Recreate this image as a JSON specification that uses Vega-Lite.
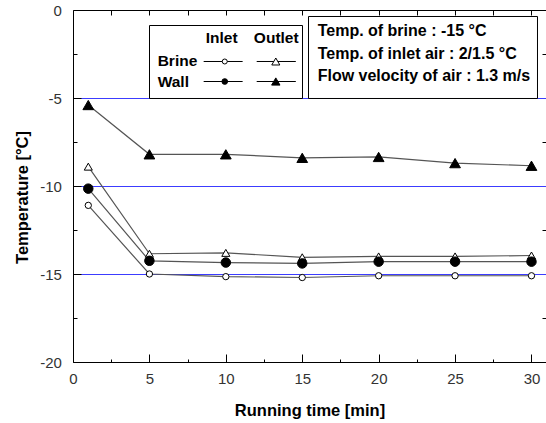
{
  "$schema": "https://vega.github.io/schema/vega-lite/v6.json",
  "width": 473,
  "height": 352,
  "autosize": {"type": "none"},
  "padding": {"left": 73, "top": 10, "right": 0, "bottom": 61},
  "background": "white",
  "config": {
    "view": {"stroke": null},
    "font": "Liberation Sans",
    "axis": {
      "labelFont": "Liberation Sans",
      "titleFont": "Liberation Sans",
      "domainColor": "#000",
      "tickColor": "#000",
      "labelColor": "#333",
      "labelFontSize": 15,
      "titleFontSize": 16.5,
      "titleFontWeight": "bold",
      "titleColor": "#000",
      "domainWidth": 1,
      "tickWidth": 1,
      "labelOverlap": false,
      "labelFlush": false
    }
  },
  "datasets": {
    "temps": [
      {"t": 1, "temp": -11.1, "series": "Brine inlet"},
      {"t": 5, "temp": -15.0, "series": "Brine inlet"},
      {"t": 10, "temp": -15.15, "series": "Brine inlet"},
      {"t": 15, "temp": -15.2, "series": "Brine inlet"},
      {"t": 20, "temp": -15.1, "series": "Brine inlet"},
      {"t": 25, "temp": -15.1, "series": "Brine inlet"},
      {"t": 30, "temp": -15.1, "series": "Brine inlet"},
      {"t": 1, "temp": -8.9, "series": "Brine outlet"},
      {"t": 5, "temp": -13.85, "series": "Brine outlet"},
      {"t": 10, "temp": -13.8, "series": "Brine outlet"},
      {"t": 15, "temp": -14.05, "series": "Brine outlet"},
      {"t": 20, "temp": -14.0, "series": "Brine outlet"},
      {"t": 25, "temp": -14.0, "series": "Brine outlet"},
      {"t": 30, "temp": -13.95, "series": "Brine outlet"},
      {"t": 1, "temp": -10.15, "series": "Wall inlet"},
      {"t": 5, "temp": -14.25, "series": "Wall inlet"},
      {"t": 10, "temp": -14.35, "series": "Wall inlet"},
      {"t": 15, "temp": -14.4, "series": "Wall inlet"},
      {"t": 20, "temp": -14.3, "series": "Wall inlet"},
      {"t": 25, "temp": -14.3, "series": "Wall inlet"},
      {"t": 30, "temp": -14.3, "series": "Wall inlet"},
      {"t": 1, "temp": -5.4, "series": "Wall outlet"},
      {"t": 5, "temp": -8.2, "series": "Wall outlet"},
      {"t": 10, "temp": -8.2, "series": "Wall outlet"},
      {"t": 15, "temp": -8.4, "series": "Wall outlet"},
      {"t": 20, "temp": -8.35, "series": "Wall outlet"},
      {"t": 25, "temp": -8.7, "series": "Wall outlet"},
      {"t": 30, "temp": -8.85, "series": "Wall outlet"}
    ]
  },
  "data": {"name": "temps"},
  "resolve": {"axis": {"x": "independent", "y": "independent"}},
  "layer": [
    {
      "mark": {"type": "line", "stroke": "#555", "strokeWidth": 1.2},
      "encoding": {
        "x": {
          "field": "t", "type": "quantitative",
          "scale": {"domain": [0, 30.95], "nice": false, "zero": false},
          "axis": {
            "orient": "bottom",
            "values": [0, 2.5, 5, 7.5, 10, 12.5, 15, 17.5, 20, 22.5, 25, 27.5, 30],
            "labelExpr": "datum.value % 5 === 0 ? '' + datum.value : ''",
            "tickSize": {"condition": {"test": "datum.value % 5 === 0", "value": -8}, "value": -3},
            "labelPadding": 17,
            "grid": false,
            "title": "Running time [min]",
            "titlePadding": 11
          }
        },
        "y": {
          "field": "temp", "type": "quantitative",
          "scale": {"domain": [-20, 0], "nice": false, "zero": false},
          "axis": {
            "orient": "left",
            "values": [0, -2.5, -5, -7.5, -10, -12.5, -15, -17.5, -20],
            "labelExpr": "datum.value % 5 === 0 ? (datum.value === -5 ? '-5\u2007' : '' + datum.value) : ''",
            "tickSize": {"condition": {"test": "datum.value % 5 === 0", "value": -8}, "value": -4},
            "labelPadding": 19.6,
            "grid": false,
            "title": "Temperature [°C]",
            "titlePadding": 9,
            "titleY": 187
          }
        },
        "detail": {"field": "series"}
      }
    },
    {
      "mark": {"type": "point", "filled": true, "stroke": "#000", "strokeWidth": 1, "opacity": 1},
      "encoding": {
        "x": {
          "field": "t", "type": "quantitative",
          "axis": {
            "orient": "top",
            "values": [2.5, 5, 7.5, 10, 12.5, 15, 17.5, 20, 22.5, 25, 27.5, 30],
            "labels": false, "tickSize": -5, "domain": true, "grid": false, "title": null
          }
        },
        "y": {
          "field": "temp", "type": "quantitative",
          "axis": {
            "orient": "right",
            "values": [-5, -10, -15],
            "labels": false, "ticks": false, "domain": false, "grid": true,
            "gridColor": "#3c3cff", "gridWidth": 1, "gridOpacity": 1, "title": null,
            "zindex": 0
          }
        },
        "shape": {"field": "series", "type": "nominal", "scale": {"domain": ["Brine inlet", "Brine outlet", "Wall inlet", "Wall outlet"], "range": ["circle", "triangle-up", "circle", "triangle-up"]}, "legend": null},
        "fill": {"field": "series", "type": "nominal", "scale": {"domain": ["Brine inlet", "Brine outlet", "Wall inlet", "Wall outlet"], "range": ["#ffffff", "#ffffff", "#000000", "#000000"]}, "legend": null},
        "size": {"field": "series", "type": "ordinal", "scale": {"domain": ["Brine inlet", "Brine outlet", "Wall inlet", "Wall outlet"], "range": [40, 115, 55, 120]}, "legend": null}
      }
    },
    {
      "data": {"values": [{}]},
      "mark": {"type": "rect", "fill": "white", "stroke": "black", "strokeWidth": 1},
      "encoding": {
        "x": {"datum": 5.006, "type": "quantitative", "axis": null},
        "x2": {"datum": 15.017},
        "y": {"datum": -0.8807, "type": "quantitative",
              "axis": {"orient": "right", "values": [-2.5, -7.5, -12.5, -17.5], "labels": false, "tickSize": -4, "domain": false, "grid": false, "title": null}},
        "y2": {"datum": -5.028}
      }
    },
    {
      "data": {"values": [{}]},
      "mark": {"type": "rect", "fill": "white", "stroke": "black", "strokeWidth": 1},
      "encoding": {
        "x": {"datum": 15.41, "type": "quantitative", "axis": null},
        "x2": {"datum": 30.393},
        "y": {"datum": -0.369, "type": "quantitative", "axis": null},
        "y2": {"datum": -5.028}
      }
    },
    {
      "data": {"values": [{}]},
      "mark": {"type": "text", "align": "center", "baseline": "middle", "fontSize": 15.5, "fontWeight": "bold", "font": "Liberation Sans", "color": "#000"},
      "encoding": {
        "x": {"datum": 9.73, "type": "quantitative", "axis": null},
        "y": {"datum": -1.59, "type": "quantitative", "axis": null},
        "text": {"value": "Inlet"}
      }
    },
    {
      "data": {"values": [{}]},
      "mark": {"type": "text", "align": "center", "baseline": "middle", "fontSize": 15.5, "fontWeight": "bold", "font": "Liberation Sans", "color": "#000"},
      "encoding": {
        "x": {"datum": 13.3, "type": "quantitative", "axis": null},
        "y": {"datum": -1.59, "type": "quantitative", "axis": null},
        "text": {"value": "Outlet"}
      }
    },
    {
      "data": {"values": [{}]},
      "mark": {"type": "text", "align": "left", "baseline": "middle", "fontSize": 15.5, "fontWeight": "bold", "font": "Liberation Sans", "color": "#000"},
      "encoding": {
        "x": {"datum": 5.54, "type": "quantitative", "axis": null},
        "y": {"datum": -2.9, "type": "quantitative", "axis": null},
        "text": {"value": "Brine"}
      }
    },
    {
      "data": {"values": [{}]},
      "mark": {"type": "text", "align": "left", "baseline": "middle", "fontSize": 15.5, "fontWeight": "bold", "font": "Liberation Sans", "color": "#000"},
      "encoding": {
        "x": {"datum": 5.54, "type": "quantitative", "axis": null},
        "y": {"datum": -4.07, "type": "quantitative", "axis": null},
        "text": {"value": "Wall"}
      }
    },
    {
      "data": {"values": [{}]},
      "mark": {"type": "rule", "stroke": "#000", "strokeWidth": 1},
      "encoding": {
        "x": {"datum": 8.55, "type": "quantitative", "axis": null},
        "x2": {"datum": 11.1},
        "y": {"datum": -2.926, "type": "quantitative", "axis": null}
      }
    },
    {
      "data": {"values": [{}]},
      "mark": {"type": "rule", "stroke": "#000", "strokeWidth": 1},
      "encoding": {
        "x": {"datum": 12.02, "type": "quantitative", "axis": null},
        "x2": {"datum": 14.58},
        "y": {"datum": -2.926, "type": "quantitative", "axis": null}
      }
    },
    {
      "data": {"values": [{}]},
      "mark": {"type": "rule", "stroke": "#000", "strokeWidth": 1},
      "encoding": {
        "x": {"datum": 8.55, "type": "quantitative", "axis": null},
        "x2": {"datum": 11.1},
        "y": {"datum": -4.0625, "type": "quantitative", "axis": null}
      }
    },
    {
      "data": {"values": [{}]},
      "mark": {"type": "rule", "stroke": "#000", "strokeWidth": 1},
      "encoding": {
        "x": {"datum": 12.02, "type": "quantitative", "axis": null},
        "x2": {"datum": 14.58},
        "y": {"datum": -4.0625, "type": "quantitative", "axis": null}
      }
    },
    {
      "data": {"values": [{}]},
      "mark": {"type": "point", "shape": "circle", "filled": true, "fill": "#fff", "stroke": "#000", "strokeWidth": 1, "size": 25, "opacity": 1},
      "encoding": {
        "x": {"datum": 9.93, "type": "quantitative", "axis": null},
        "y": {"datum": -2.926, "type": "quantitative", "axis": null}
      }
    },
    {
      "data": {"values": [{}]},
      "mark": {"type": "point", "shape": "triangle-up", "filled": true, "fill": "#fff", "stroke": "#000", "strokeWidth": 1, "size": 65, "opacity": 1},
      "encoding": {
        "x": {"datum": 13.27, "type": "quantitative", "axis": null},
        "y": {"datum": -2.926, "type": "quantitative", "axis": null}
      }
    },
    {
      "data": {"values": [{}]},
      "mark": {"type": "point", "shape": "circle", "filled": true, "fill": "#000", "stroke": "#000", "strokeWidth": 1, "size": 32, "opacity": 1},
      "encoding": {
        "x": {"datum": 9.93, "type": "quantitative", "axis": null},
        "y": {"datum": -4.0625, "type": "quantitative", "axis": null}
      }
    },
    {
      "data": {"values": [{}]},
      "mark": {"type": "point", "shape": "triangle-up", "filled": true, "fill": "#000", "stroke": "#000", "strokeWidth": 1, "size": 70, "opacity": 1},
      "encoding": {
        "x": {"datum": 13.27, "type": "quantitative", "axis": null},
        "y": {"datum": -4.0625, "type": "quantitative", "axis": null}
      }
    },
    {
      "data": {"values": [{}]},
      "mark": {"type": "text", "align": "left", "baseline": "middle", "fontSize": 16, "fontWeight": "bold", "font": "Liberation Sans", "color": "#000", "lineHeight": 22.7},
      "encoding": {
        "x": {"datum": 16.01, "type": "quantitative", "axis": null},
        "y": {"datum": -1.19, "type": "quantitative", "axis": null},
        "text": {"value": ["Temp. of brine : -15 °C", "Temp. of inlet air : 2/1.5 °C", "Flow velocity of air : 1.3 m/s"]}
      }
    }
  ]
}
